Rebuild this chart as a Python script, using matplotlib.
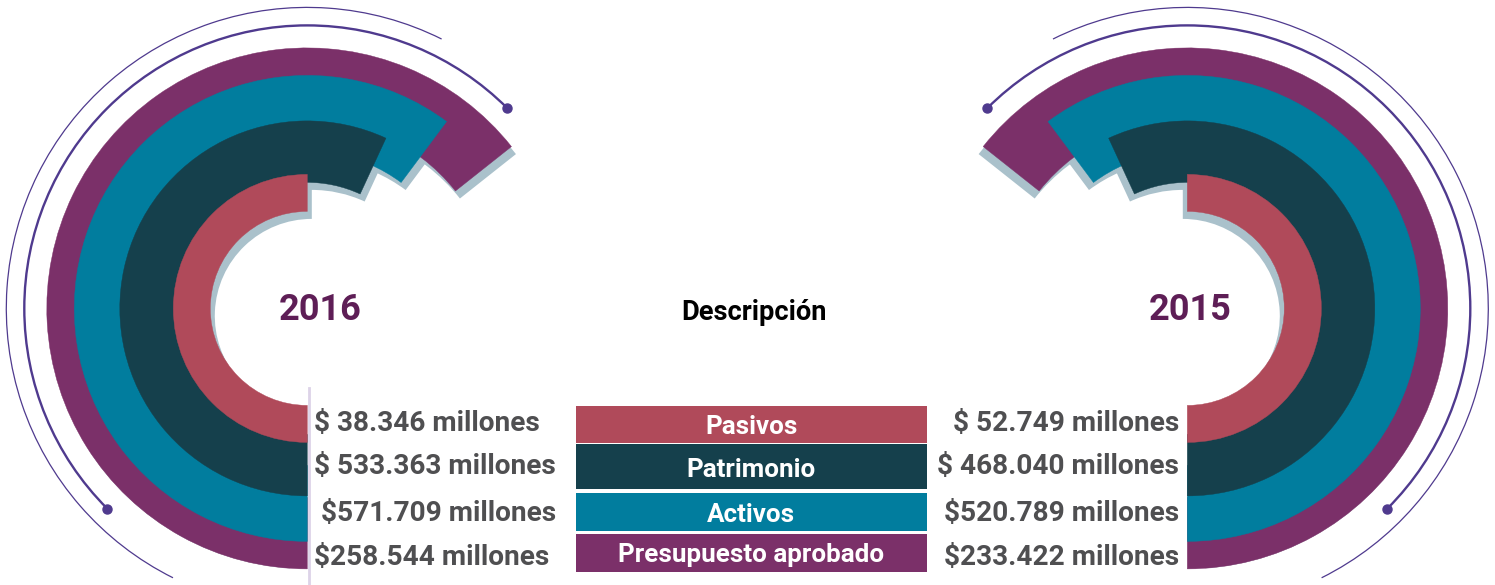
import matplotlib
matplotlib.use("Agg")
import numpy as np
import matplotlib.pyplot as plt
from matplotlib.patches import Wedge, Arc, Circle, Rectangle

plt.rcParams['font.family'] = ['Roboto', 'DejaVu Sans']

# datos
categories = ['Pasivos', 'Patrimonio', 'Activos', 'Presupuesto aprobado']
labels_2016 = ['$ 38.346 millones', '$ 533.363 millones', ' $571.709 millones', '$258.544 millones']
labels_2015 = ['$ 52.749 millones', '$ 468.040 millones', '$520.789 millones', '$233.422 millones']
years = ['2016', '2015']

# estilo / geometria (los arcos son decorativos, no proporcionales)
colors = ['#b04a5a', '#15404c', '#017d9e', '#7b3069']
sweep = [180, 204.8, 216.7, 231.6]
ring_inner = [97, 126, 157, 189]
ring_outer = [134, 187.5, 233, 260.5]
shadow_c = '#aac1cb'
line_c = '#4f3a8e'
year_c = '#5e1e56'
text_c = '#4f4f51'

fig = plt.figure(figsize=(14.95, 5.85), dpi=100)
ax = fig.add_axes([0, 0, 1, 1])
ax.set_xlim(0, 1495)
ax.set_ylim(585, 0)
ax.axis('off')

cy = 308.4
centers = [307.3, 1187.3]
sides = [1, -1]


def draw_rings(cx, side):
    # de fuera hacia dentro, cada anillo tapa al siguiente; sombras debajo de todo
    for i in range(3, -1, -1):
        r0, r1 = ring_inner[i], ring_outer[i]
        z = 2 + (3 - i)
        if side > 0:
            t1, t2 = 90, 90 + sweep[i]
            s1, s2 = 95, t2
        else:
            t1, t2 = 90 - sweep[i], 90
            s1, s2 = t1, 85
        sh = Wedge((cx + side * 4.5, cy + 7.5), r1, s1, s2, width=r1 - r0,
                   facecolor=shadow_c, lw=0, zorder=1)
        ax.add_patch(sh)
        sh.set_clip_path(Circle((cx, cy), r1, transform=ax.transData))
        ax.add_patch(Wedge((cx, cy), r1, t1, t2, width=r1 - r0,
                           facecolor=colors[i], edgecolor=colors[i], lw=0.3, zorder=z))

    # lineas finas alrededor
    def mirror(a, b):
        return (a, b) if side > 0 else (180 - b, 180 - a)
    a1, a2 = mirror(135, 315)
    ax.add_patch(Arc((cx, cy), 2 * 283, 2 * 283, theta1=a1, theta2=a2,
                     color=line_c, lw=1.7, zorder=12))
    for a in (a1, a2):
        ax.plot(cx + 283 * np.cos(np.radians(a)), cy + 283 * np.sin(np.radians(a)),
                'o', color=line_c, ms=6.5, zorder=12)
    b1, b2 = mirror(116.5, 296.5)
    ax.add_patch(Arc((cx, cy), 2 * 301, 2 * 301, theta1=b1, theta2=b2,
                     color=line_c, lw=0.9, zorder=12))


for cx, side in zip(centers, sides):
    draw_rings(cx, side)

# linea lila junto a los valores 2016
ax.plot([309, 309], [388, 585], color='#ddd3e8', lw=2, zorder=0)

# anos y titulo
ax.text(320.5, 320.5, years[0], ha='center', va='baseline', fontsize=26,
        fontweight='bold', color=year_c, zorder=13)
ax.text(1190.5, 320.5, years[1], ha='center', va='baseline', fontsize=26,
        fontweight='bold', color=year_c, zorder=13)
ax.text(754, 320.5, 'Descripción', ha='center', va='baseline', fontsize=19.6,
        fontweight='bold', color='black')

# valores
baselines = [431, 474, 521, 565]
for lab, yb in zip(labels_2016, baselines):
    ax.text(314, yb, lab, ha='left', va='baseline', fontsize=20.2,
            fontweight='bold', color=text_c, zorder=13)
for lab, yb in zip(labels_2015, baselines):
    ax.text(1179, yb, lab, ha='right', va='baseline', fontsize=20.2,
            fontweight='bold', color=text_c, zorder=13)

# cajas de descripcion
box_top = [405.7, 444.3, 492.7, 534.3]
box_bot = [443.3, 489.0, 530.7, 571.7]
box_base = [434.3, 476.7, 521.7, 561.7]
for cat, c, t, b, yb in zip(categories, colors, box_top, box_bot, box_base):
    ax.add_patch(Rectangle((576, t), 350.7, b - t, facecolor=c, lw=0, zorder=2))
    ax.text(751.3, yb, cat, ha='center', va='baseline', fontsize=18.7,
            fontweight='bold', color='white', zorder=3)

fig.savefig('out.png', dpi=100)
